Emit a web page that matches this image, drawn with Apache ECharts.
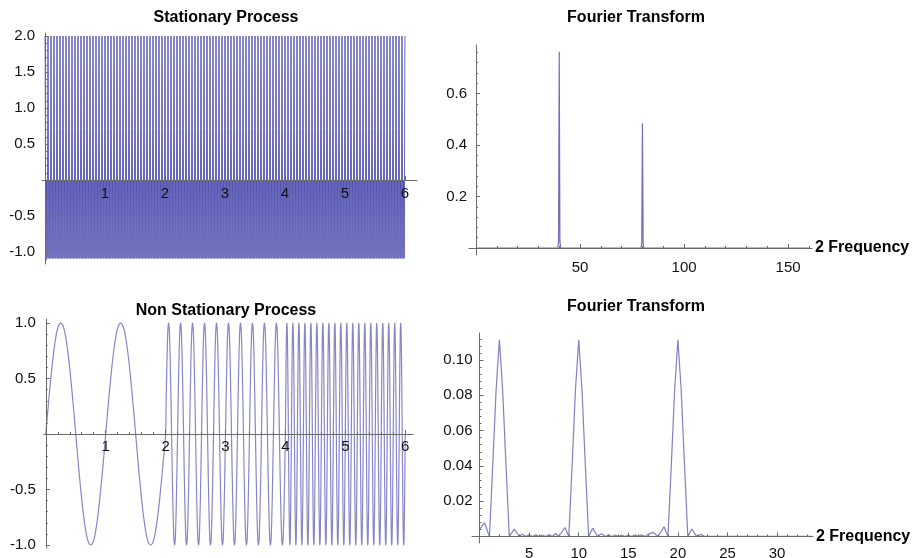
<!DOCTYPE html>
<html>
<head>
<meta charset="utf-8">
<script src="https://cdn.jsdelivr.net/npm/echarts@6/dist/echarts.min.js"></script>
<style>
  html, body { margin: 0; padding: 0; background: #ffffff; }
  #chart { width: 912px; height: 558px; }
</style>
</head>
<body>
<div id="chart"></div>
<script>
// ---- Stationary process: one period of the waveform, 16 samples per period ----
const stationaryPeriod = 0.05;           // seconds per period
const stationarySpan = [0, 6];           // seconds
const stationaryCycle = [2.0, 1.63, 0.71, -0.32, -1.0, -1.09, -0.71, -0.22,
                         0.0, -0.22, -0.71, -1.09, -1.0, -0.32, 0.71, 1.63];

// ---- Non stationary process: sine bursts with rising frequency ----
const nonStationaryBounds = [0, 2, 4, 6];   // segment limits (s)
const nonStationaryCycles = [2, 10, 20];    // full periods in each segment
const sineCycle = [0, 0.26, 0.5, 0.71, 0.87, 0.97, 1, 0.97, 0.87, 0.71, 0.5, 0.26,
                   0, -0.26, -0.5, -0.71, -0.87, -0.97, -1, -0.97, -0.87, -0.71, -0.5, -0.26];

// ---- Spectra: [2 x frequency, magnitude] ----
const stationarySpectrum = [
  [0.33, 0], [39.3, 0], [39.67, 0.025], [40, 0.762], [40.33, 0.025], [40.7, 0],
  [79.3, 0], [79.67, 0.02], [80, 0.484], [80.33, 0.02], [80.7, 0], [160, 0]
];
const nonStationarySpectrum = [
  [0, 0.004], [0.5, 0.0078], [1, 0], [1.33, 0.04], [1.67, 0.083], [2, 0.1115],
  [2.33, 0.083], [2.67, 0.04], [3, 0], [3.5, 0.0042], [4, 0], [4.33, 0.0012],
  [4.67, 0], [5, 0.0009], [5.33, 0], [5.67, 0.0009], [6, 0], [6.33, 0.0008],
  [6.67, 0], [7, 0.001], [7.33, 0], [7.67, 0.0017], [8, 0], [8.6, 0.0051],
  [9, 0], [9.33, 0.04], [9.67, 0.083], [10, 0.1115], [10.33, 0.083], [10.67, 0.04],
  [11, 0], [11.4, 0.0047], [11.9, 0], [12.3, 0.0015], [12.7, 0], [13, 0.0009],
  [13.3, 0], [13.7, 0.0008], [14, 0], [14.3, 0.0008], [14.7, 0], [15, 0.0008],
  [15.3, 0], [15.7, 0.0009], [16, 0], [16.3, 0.0009], [16.7, 0], [17, 0.0012],
  [17.5, 0.0023], [18, 0], [18.6, 0.0055], [19, 0], [19.33, 0.04], [19.67, 0.083],
  [20, 0.1115], [20.33, 0.083], [20.67, 0.04], [21, 0], [21.4, 0.0042], [21.9, 0],
  [22.3, 0.0012], [22.7, 0], [33.5, 0]
];

// ---- Tick labels ----
const timeTicks = [1, 2, 3, 4, 5, 6];
const stationaryTicks = [-1, -0.5, 0.5, 1, 1.5, 2];
const nonStationaryTicks = [-1, -0.5, 0.5, 1];
const spectrumFreqTicks = [50, 100, 150];
const spectrumMagTicks = [0.2, 0.4, 0.6];
const spectrum2FreqTicks = [5, 10, 15, 20, 25, 30];
const spectrum2MagTicks = [0.02, 0.04, 0.06, 0.08, 0.1];

const titles = ['Stationary Process', 'Fourier Transform', 'Non Stationary Process', 'Fourier Transform'];
const freqAxisName = '2 Frequency';

// ---- helpers ----
const FONT = '"Liberation Sans", Arial, Helvetica, sans-serif';
const AXIS_COLOR = '#6a6a6a';

// repeat a sampled period across [t0, t1]
function tileCycle(cycle, t0, t1, period) {
  const n = cycle.length;
  const dt = period / n;
  const steps = Math.round((t1 - t0) / dt);
  const out = [];
  for (let k = 0; k <= steps; k++) out.push([t0 + k * dt, cycle[k % n]]);
  return out;
}

// minor tick positions between the labelled ones
function stepsBetween(from, to, step, skip) {
  const out = [];
  const n = Math.round((to - from) / step);
  for (let i = 0; i <= n; i++) {
    const v = +(from + i * step).toFixed(6);
    if (v !== 0 && !skip.some(s => Math.abs(s - v) < 1e-9)) out.push(v);
  }
  return out;
}

const stationaryData = tileCycle(stationaryCycle, stationarySpan[0], stationarySpan[1], stationaryPeriod);

let nonStationaryData = [];
for (let i = 0; i < nonStationaryCycles.length; i++) {
  const a = nonStationaryBounds[i], b = nonStationaryBounds[i + 1];
  const seg = tileCycle(sineCycle, a, b, (b - a) / nonStationaryCycles[i]);
  nonStationaryData = nonStationaryData.concat(i === 0 ? seg : seg.slice(1));
}

// panel geometry (pixels) and axis ranges; axes cross at the origin
const panels = [
  { rect: { left: 42, top: 33, width: 375, height: 231 }, x: [-0.05, 6.2], y: [-1.1667, 2.0417],
    xt: timeTicks, yt: stationaryTicks, xd: 0, yd: 1, xm: 6, ym: 10,
    xMinor: stepsBetween(0.2, 6, 0.2, timeTicks), yMinor: stepsBetween(-1.1, 2.0, 0.1, stationaryTicks), name: '' },
  { rect: { left: 469, top: 45, width: 343, height: 210 }, x: [-3.37, 161.5], y: [-0.0272, 0.7883],
    xt: spectrumFreqTicks, yt: spectrumMagTicks, xd: 0, yd: 1, xm: 12, ym: 9,
    xMinor: stepsBetween(10, 160, 10, spectrumFreqTicks), yMinor: stepsBetween(0.04, 0.76, 0.04, spectrumMagTicks), name: freqAxisName },
  { rect: { left: 44, top: 319, width: 369, height: 229 }, x: [-0.03, 6.13], y: [-1.027, 1.037],
    xt: timeTicks, yt: nonStationaryTicks, xd: 0, yd: 1, xm: 5, ym: 10,
    xMinor: stepsBetween(0.2, 6, 0.2, timeTicks), yMinor: stepsBetween(-1.0, 1.0, 0.1, nonStationaryTicks), name: '' },
  { rect: { left: 472, top: 333, width: 341, height: 210 }, x: [-0.76, 33.62], y: [-0.0037, 0.1153],
    xt: spectrum2FreqTicks, yt: spectrum2MagTicks, xd: 0, yd: 2, xm: 10, ym: 7,
    xMinor: stepsBetween(1, 33, 1, spectrum2FreqTicks), yMinor: stepsBetween(0.004, 0.112, 0.004, spectrum2MagTicks), name: freqAxisName }
];

const grid = [], xAxis = [], yAxis = [];
panels.forEach((p, i) => {
  // shift the bottom / left axes so they run through the origin
  const xOff = -(0 - p.y[0]) / (p.y[1] - p.y[0]) * p.rect.height;
  const yOff = -(0 - p.x[0]) / (p.x[1] - p.x[0]) * p.rect.width;
  grid[i] = Object.assign({ containLabel: false, outerBoundsMode: 'none' }, p.rect);
  grid[i + 4] = Object.assign({ containLabel: false, outerBoundsMode: 'none' }, p.rect);
  // main axes: line, major ticks, labels
  xAxis[i] = {
    type: 'value', gridIndex: i, min: p.x[0], max: p.x[1], z: 5,
    position: 'bottom', offset: xOff,
    axisLine: { onZero: false, lineStyle: { color: AXIS_COLOR, width: 1 } },
    axisTick: { inside: true, length: 4, customValues: p.xt, lineStyle: { color: AXIS_COLOR } },
    axisLabel: { customValues: p.xt, formatter: v => v.toFixed(p.xd), margin: p.xm,
                 color: '#111', fontSize: 15, fontFamily: FONT },
    splitLine: { show: false },
    name: p.name, nameLocation: 'end', nameGap: 3,
    nameTextStyle: { fontSize: 16, fontWeight: 'bold', color: '#000', fontFamily: FONT }
  };
  yAxis[i] = {
    type: 'value', gridIndex: i, min: p.y[0], max: p.y[1], z: 5,
    position: 'left', offset: yOff,
    axisLine: { onZero: false, lineStyle: { color: AXIS_COLOR, width: 1 } },
    axisTick: { inside: true, length: 4, customValues: p.yt, lineStyle: { color: AXIS_COLOR } },
    axisLabel: { customValues: p.yt, formatter: v => v.toFixed(p.yd), margin: p.ym,
                 color: '#111', fontSize: 15, fontFamily: FONT },
    splitLine: { show: false }
  };
  // companion axes carrying only the short minor ticks
  xAxis[i + 4] = {
    type: 'value', gridIndex: i + 4, min: p.x[0], max: p.x[1], z: 5,
    position: 'bottom', offset: xOff,
    axisLine: { show: false, onZero: false },
    axisTick: { inside: true, length: 2, customValues: p.xMinor, lineStyle: { color: AXIS_COLOR } },
    axisLabel: { show: false }, splitLine: { show: false }
  };
  yAxis[i + 4] = {
    type: 'value', gridIndex: i + 4, min: p.y[0], max: p.y[1], z: 5,
    position: 'left', offset: yOff,
    axisLine: { show: false, onZero: false },
    axisTick: { inside: true, length: 2, customValues: p.yMinor, lineStyle: { color: AXIS_COLOR } },
    axisLabel: { show: false }, splitLine: { show: false }
  };
});

const titleCenters = [[226, 9.5], [636, 9.5], [226, 303], [636, 299]];
const title = titles.map((t, i) => ({
  text: t, left: titleCenters[i][0], top: titleCenters[i][1], textAlign: 'center', padding: 0,
  textStyle: { fontSize: 16, fontWeight: 'bold', color: '#000', fontFamily: FONT }
}));

const lineBase = { type: 'line', showSymbol: false, symbol: 'none', animation: false,
                   sampling: null, silent: true, z: 2 };

const option = {
  animation: false,
  backgroundColor: '#ffffff',
  title, grid, xAxis, yAxis,
  series: [
    Object.assign({}, lineBase, { xAxisIndex: 0, yAxisIndex: 0, data: stationaryData,
      lineStyle: { color: 'rgb(74,74,174)', width: 0.85 } }),
    Object.assign({}, lineBase, { xAxisIndex: 1, yAxisIndex: 1, data: stationarySpectrum,
      lineStyle: { color: 'rgb(110,110,188)', width: 1.2 } }),
    Object.assign({}, lineBase, { xAxisIndex: 2, yAxisIndex: 2, data: nonStationaryData, smooth: 0.5,
      lineStyle: { color: 'rgb(135,135,200)', width: 1.2 } }),
    Object.assign({}, lineBase, { xAxisIndex: 3, yAxisIndex: 3, data: nonStationarySpectrum,
      lineStyle: { color: 'rgb(128,128,196)', width: 1.2 } })
  ]
};

const chart = echarts.init(document.getElementById('chart'), null, { renderer: 'canvas' });
chart.setOption(option);
</script>
</body>
</html>
